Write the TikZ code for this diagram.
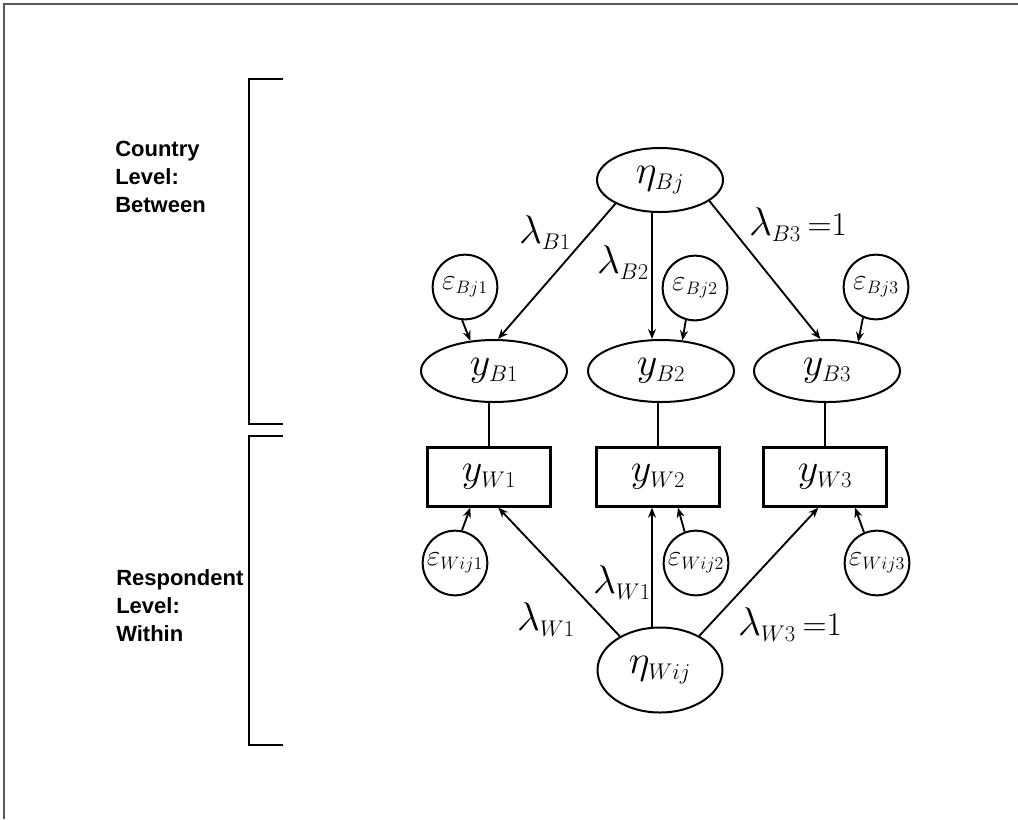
\RequirePackage{fix-cm}
\documentclass[tikz,border=0pt]{standalone}
\usepackage{fontspec}
\setsansfont{Liberation Sans}
\usetikzlibrary{shapes.geometric,arrows.meta}
\DeclareMathSizes{30}{30}{17}{12}
\DeclareMathSizes{22}{22}{13.5}{10}
\tikzset{
 lat/.style={ellipse, draw, line width=1.5pt, inner sep=0pt, font=\fontsize{30}{36}\selectfont},
 obs/.style={rectangle, draw, line width=2pt, inner sep=0pt, minimum width=92pt, minimum height=44pt, font=\fontsize{30}{36}\selectfont},
 err/.style={circle, draw, line width=1.5pt, inner sep=0pt, minimum size=48.5pt, font=\fontsize{22}{26}\selectfont},
 arr/.style={-{Stealth[length=7.5pt,width=6pt]}, line width=1.4pt},
 link/.style={line width=1.4pt},
 lab/.style={inner sep=0pt, font=\fontsize{30}{36}\selectfont},
 lvl/.style={align=left, anchor=north west, inner sep=0pt, font=\sffamily\bfseries\fontsize{16.5}{21}\selectfont},
 frame/.style={line width=1.5pt, black!65},
 brack/.style={line width=1.8pt},
}
\begin{document}
\begin{tikzpicture}[x=0.75pt,y=-0.75pt]
\useasboundingbox (0,0) rectangle (1018,819);
\draw[frame] (4,819) -- (4,4) -- (1018,4);
\draw[brack] (283,79) -| (249,424) -- (283,424);
\draw[brack] (283,436) -| (249,745) -- (283,745);
\node[lvl] (country) at (115,141) {Country\\Level:\\Between};
\node[lvl] (resp) at (116,569) {Respondent\\Level:\\Within};

\node[lat, minimum width=94.5pt, minimum height=48pt] (etaB) at (660,180) {$\eta_{Bj}$};
\node[lat, minimum width=109.5pt, minimum height=46.5pt] (yB1) at (494,371) {$y_{B1}$};
\node[lat, minimum width=109.5pt, minimum height=46.5pt] (yB2) at (661,371) {$y_{B2}$};
\node[lat, minimum width=109.5pt, minimum height=46.5pt] (yB3) at (827,371) {$y_{B3}$};
\node[err] (eB1) at (465,287) {$\varepsilon_{Bj1}$};
\node[err] (eB2) at (695,288) {$\varepsilon_{Bj2}$};
\node[err] (eB3) at (876,287) {$\varepsilon_{Bj3}$};
\node[obs] (yW1) at (489,477) {$y_{W1}$};
\node[obs] (yW2) at (658,477) {$y_{W2}$};
\node[obs] (yW3) at (825,477) {$y_{W3}$};
\node[err] (eW1) at (455,563) {$\varepsilon_{Wij1}$};
\node[err] (eW2) at (696,563) {$\varepsilon_{Wij2}$};
\node[err] (eW3) at (877,563) {$\varepsilon_{Wij3}$};
\node[lat, minimum width=93.75pt, minimum height=63.75pt] (etaW) at (660,670) {$\eta_{Wij}$};

\node[lab] (lB1) at (545,233) {$\lambda_{B1}$};
\node[lab] (lB2) at (623,263) {$\lambda_{B2}$};
\node[lab] (lB3) at (798,225) {$\lambda_{B3}$\,{\fontsize{25}{28}\selectfont$=$1}};
\node[lab] (lW1a) at (546,620) {$\lambda_{W1}$};
\node[lab] (lW1b) at (622,583) {$\lambda_{W1}$};
\node[lab] (lW3) at (790,625) {$\lambda_{W3}$\,{\fontsize{25}{28}\selectfont$=$1}};

\draw[arr] (etaB.208) -- ([xshift=3pt]yB1.north);
\draw[arr] ([xshift=-6pt]etaB.south) coordinate (b2) -- (b2 |- yB2.north);
\draw[arr] (etaB.-23) -- ([xshift=-5pt]yB3.north);
\draw[arr] (eB1.265) -- (yB1.128);
\draw[arr] (eB2.254) -- (yB2.55);
\draw[arr] (eB3.247) -- (yB3.43);

\draw[link] (yW1.north) -- (yW1.north |- yB1.south);
\draw[link] (yW2.north) -- (yW2.north |- yB2.south);
\draw[link] (yW3.north) -- (yW3.north |- yB3.south);

\draw[arr] (eW1.78) -- ([xshift=-14pt]yW1.south);
\draw[arr] (eW2.110) -- ([xshift=15pt]yW2.south);
\draw[arr] (eW3.113) -- ([xshift=22.5pt]yW3.south);
\draw[arr] (etaW.140) -- ([xshift=7pt]yW1.south);
\draw[arr] ([xshift=-6pt]etaW.north) coordinate (w2) -- (w2 |- yW2.south);
\draw[arr] (etaW.41) -- ([xshift=-5pt]yW3.south);
\end{tikzpicture}
\end{document}
